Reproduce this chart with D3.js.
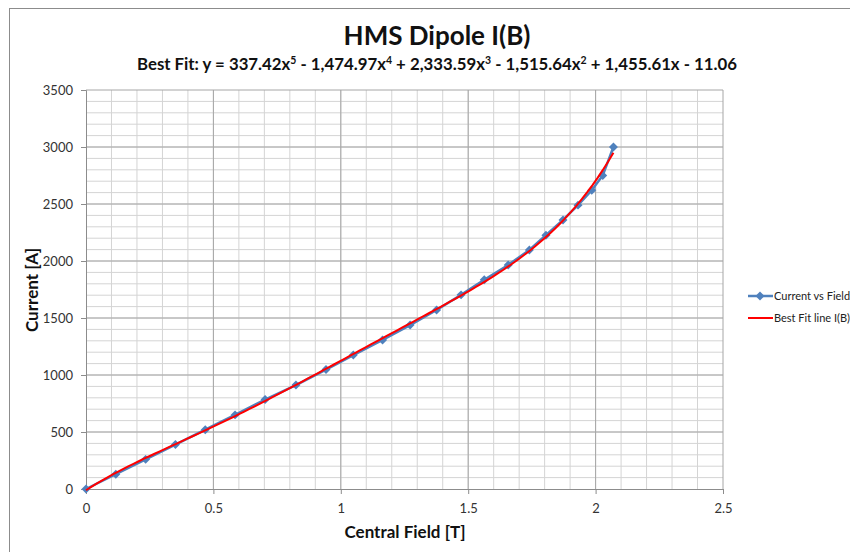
<html lang="en">
  <head>
    <meta charset="UTF-8" />
    <title>HMS Dipole I(B)</title>
    <script src="https://d3js.org/d3.v7.min.js"></script>
    <style>
      * {
        box-sizing: border-box;
        margin: 0;
        padding: 0;
      }
      body {
        background: #fff;
        font-family: Lato, "Open Sans", sans-serif;
      }
    </style>
  </head>
  <body>
    <svg id="chart" width="850" height="552"></svg>
    <script>
      // measured points: central field [T] and current [A]
      const field = [0, 0.117, 0.234, 0.351, 0.468, 0.585, 0.703, 0.824, 0.942, 1.049, 1.164, 1.272, 1.376,
        1.472, 1.563, 1.657, 1.74, 1.805, 1.872, 1.931, 1.985, 2.028, 2.07];
      const current = [0, 130, 260, 390, 520, 650, 785, 912, 1048, 1175, 1307, 1438, 1570,
        1703, 1835, 1965, 2096, 2226, 2360, 2490, 2620, 2750, 3000];

      // best fit coefficients, x^5 down to x^0 (from the subtitle)
      const fitCoef = [337.42, -1474.97, 2333.59, -1515.64, 1455.61, -11.06];

      const xTicks = [0, 0.5, 1, 1.5, 2, 2.5];
      const yTicks = [0, 500, 1000, 1500, 2000, 2500, 3000, 3500];

      const svg = d3.select("#chart");
      const mLeft = 86, mRight = 723, mTop = 90, mBottom = 489;

      const x = d3.scaleLinear().domain([0, 2.5]).range([mLeft, mRight]);
      const y = d3.scaleLinear().domain([0, 3500]).range([mBottom, mTop]);

      // outer chart border
      svg.append("rect")
        .attr("x", 9.5).attr("y", 8.5)
        .attr("width", 900).attr("height", 600)
        .attr("fill", "none").attr("stroke", "#8c8c8c");

      // minor grid
      const g = svg.append("g");
      g.selectAll(".vmin").data(d3.range(1, 25).map(i => i / 10))
        .enter().append("line")
        .attr("x1", d => x(d)).attr("x2", d => x(d))
        .attr("y1", mTop).attr("y2", mBottom)
        .attr("stroke", "#d4d4d4");
      g.selectAll(".hmin").data(d3.range(1, 35).map(i => i * 100))
        .enter().append("line")
        .attr("y1", d => y(d)).attr("y2", d => y(d))
        .attr("x1", mLeft).attr("x2", mRight)
        .attr("stroke", "#d4d4d4");
      // major grid
      g.selectAll(".vmaj").data(xTicks.slice(1))
        .enter().append("line")
        .attr("x1", d => x(d)).attr("x2", d => x(d))
        .attr("y1", mTop).attr("y2", mBottom)
        .attr("stroke", "#a6a6a6");
      g.selectAll(".hmaj").data(yTicks.slice(1))
        .enter().append("line")
        .attr("y1", d => y(d)).attr("y2", d => y(d))
        .attr("x1", mLeft).attr("x2", mRight)
        .attr("stroke", "#a6a6a6");

      // axes
      const xAxis = svg.append("g")
        .attr("transform", `translate(0,${mBottom})`)
        .call(d3.axisBottom(x).tickValues(xTicks).tickSize(5).tickPadding(10).tickFormat(d3.format("")));
      const yAxis = svg.append("g")
        .attr("transform", `translate(${mLeft},0)`)
        .call(d3.axisLeft(y).tickValues(yTicks).tickSize(5).tickPadding(8).tickFormat(d3.format("")));
      [xAxis, yAxis].forEach(a => {
        a.selectAll("path, line").attr("stroke", "#8c8c8c");
        a.selectAll("text").attr("fill", "#333").style("font-size", "13px").style("font-family", "Lato, sans-serif");
      });

      // diamond marker: a square turned 45 degrees
      const marker = d3.symbol(d3.symbolSquare, 40);

      // data series
      const pts = field.map((f, i) => [f, current[i]]);
      svg.append("path")
        .datum(pts)
        .attr("fill", "none")
        .attr("stroke", "#4f81bd")
        .attr("stroke-width", 2.5)
        .attr("d", d3.line().x(d => x(d[0])).y(d => y(d[1])));
      svg.selectAll(".pt").data(pts).enter().append("path")
        .attr("transform", d => `translate(${x(d[0])},${y(d[1])}) rotate(45)`)
        .attr("d", marker)
        .attr("fill", "#4f81bd");

      // best fit line over the data range
      const fit = v => fitCoef.reduce((s, c) => s * v + c, 0);
      const fitPts = d3.range(0, 101).map(i => {
        const v = field[field.length - 1] * i / 100;
        return [v, fit(v)];
      });
      svg.append("path")
        .datum(fitPts)
        .attr("fill", "none")
        .attr("stroke", "#ff0000")
        .attr("stroke-width", 2)
        .attr("d", d3.line().x(d => x(d[0])).y(d => y(d[1])));

      // titles
      svg.append("text")
        .attr("x", 437).attr("y", 45)
        .attr("text-anchor", "middle")
        .style("font-size", "26px").style("font-weight", "bold")
        .attr("fill", "#111")
        .text("HMS Dipole I(B)");

      const sub = svg.append("text")
        .attr("x", 437).attr("y", 70)
        .attr("text-anchor", "middle")
        .style("font-size", "16.8px").style("font-weight", "bold")
        .attr("fill", "#111");
      const parts = [["Best Fit: y = 337.42x", "5"], [" - 1,474.97x", "4"], [" + 2,333.59x", "3"],
        [" - 1,515.64x", "2"], [" + 1,455.61x - 11.06", ""]];
      let raised = false;
      parts.forEach(p => {
        sub.append("tspan").attr("dy", raised ? 6 : 0).text(p[0]);
        raised = false;
        if (p[1]) {
          sub.append("tspan").attr("dy", -6).style("font-size", "10.5px").text(p[1]);
          raised = true;
        }
      });

      svg.append("text")
        .attr("x", 405).attr("y", 538)
        .attr("text-anchor", "middle")
        .style("font-size", "17px").style("font-weight", "bold")
        .attr("fill", "#111")
        .text("Central Field [T]");
      svg.append("text")
        .attr("transform", "translate(38,290) rotate(-90)")
        .attr("text-anchor", "middle")
        .style("font-size", "17px").style("font-weight", "bold")
        .attr("fill", "#111")
        .text("Current [A]");

      // legend
      const leg = svg.append("g").style("font-size", "11px");
      leg.append("line").attr("x1", 748).attr("x2", 773).attr("y1", 296).attr("y2", 296)
        .attr("stroke", "#4f81bd").attr("stroke-width", 2.5);
      leg.append("path").attr("transform", "translate(760,296) rotate(45)")
        .attr("d", marker).attr("fill", "#4f81bd");
      leg.append("text").attr("x", 774).attr("y", 300).attr("fill", "#222").text("Current vs Field");
      leg.append("line").attr("x1", 748).attr("x2", 773).attr("y1", 318).attr("y2", 318)
        .attr("stroke", "#ff0000").attr("stroke-width", 2);
      leg.append("text").attr("x", 774).attr("y", 322).attr("fill", "#222").text("Best Fit line I(B)");
    </script>
  </body>
</html>
